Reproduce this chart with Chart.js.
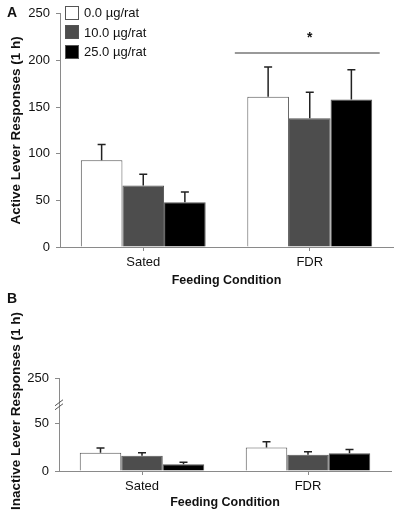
<!DOCTYPE html>
<html>
<head>
<meta charset="utf-8">
<script src="https://cdn.jsdelivr.net/npm/chart.js@4.4.0/dist/chart.umd.min.js"></script>
<style>
  body { margin:0; background:#fff; width:399px; height:513px; position:relative; overflow:hidden; font-family: Arial, 'Liberation Sans', sans-serif; }
  canvas { position:absolute; left:0; }
  #chartA { top:0; }
  #chartB { top:292px; }
  .tag { position:absolute; left:7px; font-weight:bold; font-size:14px; color:#111; }
  #legend { position:absolute; left:65px; top:3px; font-size:13px; color:#111; }
  #legend div { height:19.5px; display:flex; align-items:center; }
  #legend .box { width:12px; height:12px; border:1px solid #555; margin-right:5px; }
</style>
</head>
<body>
<canvas id="chartA" width="399" height="292"></canvas>
<canvas id="chartB" width="399" height="221"></canvas>
<div class="tag" style="top:4px">A</div>
<div class="tag" style="top:290px">B</div>
<div id="legend"></div>
<script>
// ---- data ----
const categories = ['Sated', 'FDR'];
const doseLabels = ['0.0 µg/rat', '10.0 µg/rat', '25.0 µg/rat'];
const doseColors = ['#ffffff', '#4d4d4d', '#000000'];

// Panel A: active lever responses (mean, SEM)
const active0 = [93, 161];
const active10 = [66, 138];
const active25 = [48, 158];
const activeErr0 = [17, 32];
const activeErr10 = [12, 28];
const activeErr25 = [11, 32];
const activeTicks = [0, 50, 100, 150, 200, 250];

// Panel B: inactive lever responses (mean, SEM)
const inactive0 = [19, 24.5];
const inactive10 = [16, 17];
const inactive25 = [7, 18.5];
const inactiveErr0 = [5, 6];
const inactiveErr10 = [3, 3];
const inactiveErr25 = [2, 4];
// broken axis: 250 is drawn where 97 would sit
const inactiveTickValues = [0, 50, 97];
const inactiveTickLabels = ['0', '50', '250'];
const breakTop = 97;
const breakAt = 67;

// significance bar over FDR
const sigLine = { from: 0.55, to: 1.42, value: 208, star: 224 };

const axisGray = '#8a8a8a';
const textColor = '#111';

// ---- legend ----
const legend = document.getElementById('legend');
doseLabels.forEach((lbl, i) => {
  const row = document.createElement('div');
  row.innerHTML = `<span class="box" style="background:${doseColors[i]}"></span>${lbl}`;
  legend.appendChild(row);
});

// ---- plugins ----
const errorBars = {
  id: 'errorBars',
  afterDatasetsDraw(chart) {
    const ctx = chart.ctx;
    const y = chart.scales.y;
    ctx.save();
    ctx.strokeStyle = '#222';
    ctx.lineWidth = 1.5;
    chart.data.datasets.forEach((ds, i) => {
      chart.getDatasetMeta(i).data.forEach((bar, j) => {
        const top = y.getPixelForValue(ds.data[j] + ds.errors[j]);
        ctx.beginPath();
        ctx.moveTo(bar.x, bar.y);
        ctx.lineTo(bar.x, top);
        ctx.moveTo(bar.x - 4, top);
        ctx.lineTo(bar.x + 4, top);
        ctx.stroke();
      });
    });
    ctx.restore();
  }
};

const sigMark = {
  id: 'sigMark',
  afterDraw(chart) {
    const {ctx, scales: {x, y}} = chart;
    const yy = y.getPixelForValue(sigLine.value);
    ctx.save();
    ctx.strokeStyle = '#777';
    ctx.lineWidth = 1.5;
    ctx.beginPath();
    ctx.moveTo(x.getPixelForValue(sigLine.from), yy);
    ctx.lineTo(x.getPixelForValue(sigLine.to), yy);
    ctx.stroke();
    ctx.fillStyle = textColor;
    ctx.font = 'bold 14px Arial';
    ctx.textAlign = 'center';
    ctx.textBaseline = 'middle';
    ctx.fillText('*', x.getPixelForValue(1), y.getPixelForValue(sigLine.star));
    ctx.restore();
  }
};

const axisBreak = {
  id: 'axisBreak',
  afterDraw(chart) {
    const {ctx, scales: {y}} = chart;
    const ax = y.right;
    const yy = y.getPixelForValue(breakAt);
    ctx.save();
    ctx.strokeStyle = '#555';
    ctx.lineWidth = 1;
    [0, -4].forEach(d => {
      ctx.beginPath();
      ctx.moveTo(ax - 4, yy + 3 + d);
      ctx.lineTo(ax + 4, yy - 3 + d);
      ctx.stroke();
    });
    // y title, placed by hand since the axis is broken
    ctx.translate(16, 119);
    ctx.rotate(-Math.PI / 2);
    ctx.fillStyle = textColor;
    ctx.font = 'bold 13.5px Arial';
    ctx.textAlign = 'center';
    ctx.textBaseline = 'middle';
    ctx.fillText('Inactive Lever Responses (1 h)', 0, 0);
    ctx.restore();
  }
};

function makeDatasets(means, errs) {
  return means.map((m, i) => ({
    label: doseLabels[i],
    data: m,
    errors: errs[i],
    backgroundColor: doseColors[i],
    borderColor: '#555',
    borderWidth: 1,
    categoryPercentage: 0.75,
    barPercentage: 1
  }));
}

function xAxis(height, titlePad) {
  return {
    afterFit: s => { s.height = height; },
    grid: { drawOnChartArea: false, offset: false, tickLength: 4, color: axisGray },
    border: { color: axisGray },
    ticks: { color: textColor, font: { size: 13, family: 'Arial' }, padding: 4 },
    title: { display: true, text: 'Feeding Condition', color: textColor,
      font: { size: 12.5, weight: 'bold', family: 'Arial' }, padding: { top: 0, bottom: titlePad } }
  };
}

const common = {
  responsive: false,
  animation: false,
  devicePixelRatio: 1,
  plugins: { legend: { display: false }, tooltip: { enabled: false } }
};

// ---- Panel A ----
new Chart(document.getElementById('chartA'), {
  type: 'bar',
  data: {
    labels: categories,
    datasets: makeDatasets([active0, active10, active25], [activeErr0, activeErr10, activeErr25])
  },
  options: {
    ...common,
    layout: { padding: { left: 0, right: 6, top: 12, bottom: 0 } },
    scales: {
      x: xAxis(45, 3.5),
      y: {
        min: 0, max: 250,
        afterFit: s => { s.width = 60; },
        afterBuildTicks: s => { s.ticks = activeTicks.map(v => ({ value: v })); },
        grid: { drawOnChartArea: false, tickLength: 4, color: axisGray },
        border: { color: axisGray },
        ticks: { color: textColor, font: { size: 13, family: 'Arial' }, padding: 6 },
        title: { display: true, text: 'Active Lever Responses (1 h)', color: textColor,
          font: { size: 13.5, weight: 'bold', family: 'Arial' }, padding: { top: 8, bottom: 0 } }
      }
    }
  },
  plugins: [errorBars, sigMark]
});

// ---- Panel B ----
new Chart(document.getElementById('chartB'), {
  type: 'bar',
  data: {
    labels: categories,
    datasets: makeDatasets([inactive0, inactive10, inactive25], [inactiveErr0, inactiveErr10, inactiveErr25])
  },
  options: {
    ...common,
    layout: { padding: { left: 0, right: 8, top: 86, bottom: 0 } },
    scales: {
      x: xAxis(42, 2.5),
      y: {
        min: 0, max: breakTop,
        afterFit: s => { s.width = 59; },
        afterBuildTicks: s => { s.ticks = inactiveTickValues.map(v => ({ value: v })); },
        grid: { drawOnChartArea: false, tickLength: 4, color: axisGray },
        border: { color: axisGray },
        ticks: {
          color: textColor, font: { size: 13, family: 'Arial' }, padding: 6,
          callback: v => inactiveTickLabels[inactiveTickValues.indexOf(v)]
        }
      }
    }
  },
  plugins: [errorBars, axisBreak]
});
</script>
</body>
</html>
